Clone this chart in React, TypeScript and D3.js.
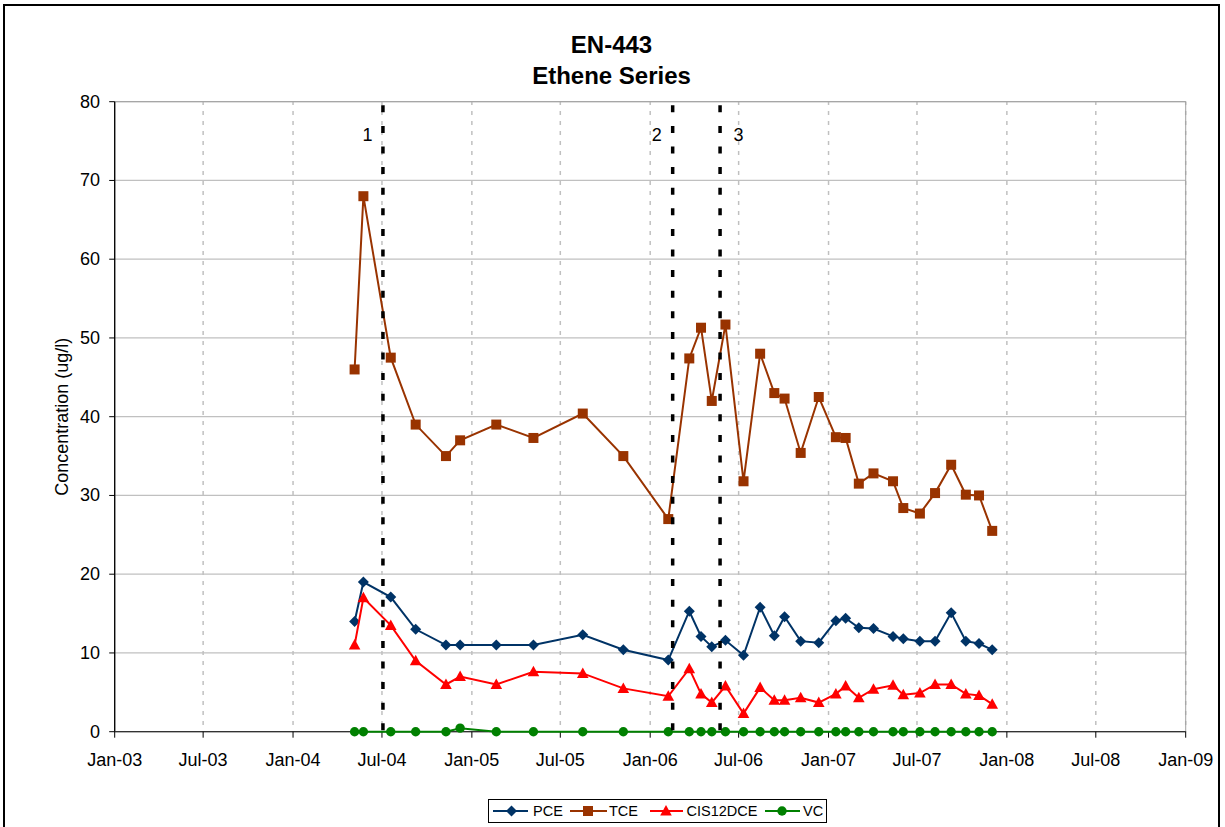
import React from "react";
import * as d3 from "d3";

const sampleDates = [
  "2004-05-06", "2004-05-24", "2004-07-19", "2004-09-08", "2004-11-09", "2004-12-08",
  "2005-02-20", "2005-05-07", "2005-08-16", "2005-11-07", "2006-02-07", "2006-03-22",
  "2006-04-15", "2006-05-07", "2006-06-04", "2006-07-11", "2006-08-14", "2006-09-12",
  "2006-10-03", "2006-11-05", "2006-12-12", "2007-01-16", "2007-02-05", "2007-03-04",
  "2007-04-03", "2007-05-13", "2007-06-03", "2007-07-07", "2007-08-07", "2007-09-09",
  "2007-10-09", "2007-11-05", "2007-12-02",
];

const pceValues = [
  14, 19, 17.1, 13, 11, 11, 11, 11, 12.3, 10.4, 9.1, 15.3, 12.1, 10.8, 11.6, 9.7, 15.8,
  12.2, 14.6, 11.5, 11.3, 14.1, 14.4, 13.2, 13.1, 12.1, 11.8, 11.5, 11.5, 15.1, 11.5, 11.2, 10.4,
];

const tceValues = [
  46, 68, 47.5, 39, 35, 37, 39, 37.3, 40.4, 35, 27, 47.4, 51.3, 42, 51.7, 31.8, 48, 43,
  42.3, 35.4, 42.5, 37.4, 37.3, 31.5, 32.8, 31.8, 28.4, 27.7, 30.3, 33.9, 30.1, 30, 25.5,
];

const cisValues = [
  11, 17, 13.5, 9, 6, 7, 6, 7.6, 7.4, 5.5, 4.5, 8, 4.8, 3.7, 5.8, 2.3, 5.6, 4, 4, 4.3,
  3.7, 4.8, 5.8, 4.3, 5.4, 5.9, 4.7, 4.9, 6, 6, 4.8, 4.6, 3.5,
];

const vcValues = [
  0, 0, 0, 0, 0, 0.45, 0, 0, 0, 0, 0, 0, 0, 0, 0, 0, 0, 0, 0, 0, 0, 0, 0, 0, 0, 0, 0, 0,
  0, 0, 0, 0, 0,
];

const eventDates = ["2004-07-03", "2006-02-16", "2006-05-24"];
const eventLabels = ["1", "2", "3"];

const yTicks = [0, 10, 20, 30, 40, 50, 60, 70, 80];

const seriesNames = ["PCE", "TCE", "CIS12DCE", "VC"];
const seriesColors = ["#003366", "#993300", "#FF0000", "#008000"];
const seriesMarkers = ["diamond", "square", "triangle", "circle"];

const FONT = "'Liberation Sans', Arial, sans-serif";

function Marker({ type, x, y, color }: { type: string; x: number; y: number; color: string }) {
  if (type === "diamond") {
    const r = 5.5;
    return <path d={`M${x},${y - r}L${x + r},${y}L${x},${y + r}L${x - r},${y}Z`} fill={color} />;
  }
  if (type === "square") {
    const r = 5;
    return <rect x={x - r} y={y - r} width={2 * r} height={2 * r} fill={color} />;
  }
  if (type === "triangle") {
    return <path d={`M${x},${y - 6}L${x + 5.8},${y + 4.5}L${x - 5.8},${y + 4.5}Z`} fill={color} />;
  }
  return <circle cx={x} cy={y} r={4.7} fill={color} />;
}

export default function App() {
  const parse = d3.timeParse("%Y-%m-%d");
  const dates = sampleDates.map((s) => parse(s) as Date);
  const left = 114.7, right = 1185.7, top = 101.7, bottom = 731.7;

  const x = d3.scaleTime().domain([new Date(2003, 0, 1), new Date(2009, 0, 1)]).range([left, right]);
  const y = d3.scaleLinear().domain([0, 80]).range([bottom, top]);
  const xTicks = d3.timeMonth.every(6)!.range(new Date(2003, 0, 1), new Date(2009, 0, 2));
  const fmt = d3.timeFormat("%b-%y");

  const allSeries = [pceValues, tceValues, cisValues, vcValues];
  const line = d3
    .line<[Date, number]>()
    .x((d) => x(d[0]))
    .y((d) => y(d[1]));

  const legendItems = [
    { lx1: 493, lx2: 528, mx: 511.5, tx: 533 },
    { lx1: 570, lx2: 607, mx: 588, tx: 609 },
    { lx1: 650, lx2: 683, mx: 666, tx: 686.5 },
    { lx1: 765, lx2: 800, mx: 782, tx: 803 },
  ];
  const labelOffsets = [-15.5, -16, 18.5];

  return (
    <svg
      width={1225}
      height={827}
      style={{ position: "absolute", left: 0, top: 0, background: "#fff" }}
      fontFamily={FONT}
    >
      <rect x={0} y={0} width={1225} height={827} fill="#fff" />
      <rect x={4} y={5} width={1215} height={830} fill="none" stroke="#000" strokeWidth={2} />

      <text x={611.5} y={53} textAnchor="middle" fontSize={24} fontWeight="bold">EN-443</text>
      <text x={611.5} y={84} textAnchor="middle" fontSize={24} fontWeight="bold">Ethene Series</text>

      {/* horizontal gridlines */}
      {yTicks.map((t) => (
        <line key={"h" + t} x1={left} x2={right} y1={y(t)} y2={y(t)} stroke="#c0c0c0" strokeWidth={1.3} />
      ))}
      {/* vertical dashed gridlines */}
      {xTicks.slice(1).map((t, i) => (
        <line
          key={"v" + i}
          x1={x(t)}
          x2={x(t)}
          y1={top}
          y2={bottom}
          stroke="#c0c0c0"
          strokeWidth={1.5}
          strokeDasharray="4 6"
          strokeDashoffset={0.7}
        />
      ))}
      {/* plot border */}
      <rect x={left} y={top} width={right - left} height={bottom - top} fill="none" stroke="#a0a0a0" strokeWidth={1} />

      {/* axes */}
      <line x1={left} x2={left} y1={top} y2={bottom} stroke="#000" strokeWidth={1.3} />
      <line x1={left} x2={right} y1={bottom} y2={bottom} stroke="#333" strokeWidth={1.3} />
      {yTicks.map((t) => (
        <g key={"yt" + t}>
          <line x1={left - 5.5} x2={left} y1={y(t)} y2={y(t)} stroke="#000" strokeWidth={1} />
          <text x={100} y={y(t) + 6} textAnchor="end" fontSize={18}>{t}</text>
        </g>
      ))}
      {xTicks.map((t, i) => (
        <g key={"xt" + i}>
          <line x1={x(t)} x2={x(t)} y1={bottom} y2={bottom + 6} stroke="#000" strokeWidth={1} />
          <text x={x(t)} y={766} textAnchor="middle" fontSize={18}>{fmt(t)}</text>
        </g>
      ))}
      <text
        transform={`translate(68,${(top + bottom) / 2}) rotate(-90)`}
        textAnchor="middle"
        fontSize={18}
      >
        Concentration (ug/l)
      </text>

      {/* series */}
      {allSeries.map((vals, si) => {
        const pts: [Date, number][] = dates.map((d, i) => [d, vals[i]]);
        return (
          <g key={"s" + si}>
            <path d={line(pts) || ""} fill="none" stroke={seriesColors[si]} strokeWidth={2} />
            {pts.map((p, i) => (
              <Marker key={i} type={seriesMarkers[si]} x={x(p[0])} y={y(p[1])} color={seriesColors[si]} />
            ))}
          </g>
        );
      })}

      {/* event lines */}
      {eventDates.map((s, i) => {
        const ex = x(parse(s) as Date);
        return (
          <g key={"e" + i}>
            <line
              x1={ex}
              x2={ex}
              y1={top}
              y2={bottom}
              stroke="#000"
              strokeWidth={3.5}
              strokeDasharray="7 13.6"
              strokeDashoffset={17}
            />
            <text x={ex + labelOffsets[i]} y={141} textAnchor="middle" fontSize={18}>
              {eventLabels[i]}
            </text>
          </g>
        );
      })}

      {/* legend */}
      <rect x={488.5} y={799.5} width={338} height={23} fill="#fff" stroke="#000" strokeWidth={1} />
      {legendItems.map((it, i) => (
        <g key={"l" + i}>
          <line x1={it.lx1} x2={it.lx2} y1={811} y2={811} stroke={seriesColors[i]} strokeWidth={2} />
          <Marker type={seriesMarkers[i]} x={it.mx} y={811} color={seriesColors[i]} />
          <text x={it.tx} y={816} fontSize={14.5}>{seriesNames[i]}</text>
        </g>
      ))}
    </svg>
  );
}
